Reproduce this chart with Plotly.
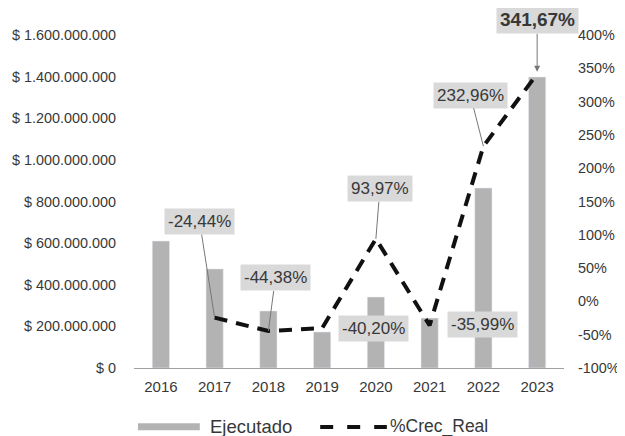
import plotly.graph_objects as go

years = ["2016", "2017", "2018", "2019", "2020", "2021", "2022", "2023"]
ejecutado = [610e6, 476e6, 274e6, 173e6, 341e6, 240e6, 865e6, 1398e6]
crec_real = [None, -24.44, -44.38, -40.20, 93.97, -35.99, 232.96, 341.67]
crec_labels = ["", "-24,44%", "-44,38%", "-40,20%", "93,97%", "-35,99%", "232,96%", "341,67%"]

left_tickvals = [0, 200e6, 400e6, 600e6, 800e6, 1000e6, 1200e6, 1400e6, 1600e6]
left_ticktext = ["$ 0", "$ 200.000.000", "$ 400.000.000", "$ 600.000.000", "$ 800.000.000",
                 "$ 1.000.000.000", "$ 1.200.000.000", "$ 1.400.000.000", "$ 1.600.000.000"]
right_tickvals = [-100, -50, 0, 50, 100, 150, 200, 250, 300, 350, 400]
right_ticktext = ["-100%", "-50%", "0%", "50%", "100%", "150%", "200%", "250%", "300%", "350%", "400%"]

FONT = "Liberation Sans, Arial, sans-serif"
TXT = "#383838"
BAR = "#b3b3b3"

fig = go.Figure()
fig.add_trace(go.Bar(x=years, y=ejecutado, name="Ejecutado", marker_color=BAR,
                     width=0.32, yaxis="y", showlegend=False))
fig.add_trace(go.Scatter(x=years, y=crec_real, name="%Crec_Real", mode="lines",
                         line=dict(color="#111111", width=4, dash="13px,9px"), yaxis="y2",
                         connectgaps=False, showlegend=False))

# label placement offsets (pixels) : (ax, ay, arrow)
offsets = {
    1: (-15, -96, True),
    2: (7, -53, True),
    3: (51, 0, False),
    4: (4, -50, True),
    5: (53, -1, False),
    6: (-13, -51, True),
    7: (0, -54, True),
}
annotations = []
for i, (ax, ay, arrow) in offsets.items():
    bold = (i == 7)
    txt = f"<b>{crec_labels[i]}</b>" if bold else crec_labels[i]
    a = dict(x=i, y=crec_real[i], xref="x", yref="y2", text=txt,
             font=dict(family=FONT, size=19 if bold else 17, color=TXT),
             bgcolor="#d9d9d9", borderpad=3)
    if arrow:
        a.update(showarrow=True, ax=ax, ay=ay, arrowcolor="#777777", arrowwidth=1,
                 arrowhead=2 if bold else 0, arrowsize=1.2, standoff=2 if bold else 0)
    else:
        a.update(showarrow=False, xshift=ax, yshift=-ay)
    annotations.append(a)

# custom legend (wide swatch like the original)
annotations.append(dict(x=0.172, y=-0.177, xref="paper", yref="paper", text="Ejecutado",
                        showarrow=False, xanchor="left", yanchor="middle",
                        font=dict(family=FONT, size=18.5, color=TXT)))
annotations.append(dict(x=0.591, y=-0.177, xref="paper", yref="paper", text="%Crec_Real",
                        showarrow=False, xanchor="left", yanchor="middle",
                        font=dict(family=FONT, size=17.5, color=TXT)))
shapes = [
    dict(type="rect", xref="paper", yref="paper", x0=0.0093, x1=0.153, y0=-0.187, y1=-0.166,
         fillcolor=BAR, line=dict(width=0)),
    dict(type="line", xref="paper", yref="paper", x0=0.433, x1=0.588, y0=-0.177, y1=-0.177,
         line=dict(color="#111111", width=4, dash="13px,14px")),
]

fig.update_layout(
    width=617, height=428,
    margin=dict(l=126, r=61, t=27, b=68),
    paper_bgcolor="white", plot_bgcolor="white",
    font=dict(family=FONT, color=TXT),
    xaxis=dict(type="category", range=[-0.5, len(years) - 0.5], showgrid=False,
               showline=True, linecolor="#a0a0a0", linewidth=1, automargin=False,
               tickfont=dict(size=15, color=TXT), ticks="", ticklabelstandoff=5),
    yaxis=dict(range=[0, 1600e6], tickvals=left_tickvals, ticktext=left_ticktext,
               showgrid=False, zeroline=False, showline=False, ticks="", automargin=False,
               tickfont=dict(size=14.4, color=TXT), ticklabelstandoff=17),
    yaxis2=dict(range=[-100, 400], tickvals=right_tickvals, ticktext=right_ticktext,
                overlaying="y", side="right", showgrid=False, zeroline=False, showline=False,
                ticks="", automargin=False,
                tickfont=dict(size=14.4, color=TXT), ticklabelstandoff=13),
    annotations=annotations,
    shapes=shapes,
    showlegend=False,
)

fig.write_html("out.html")
